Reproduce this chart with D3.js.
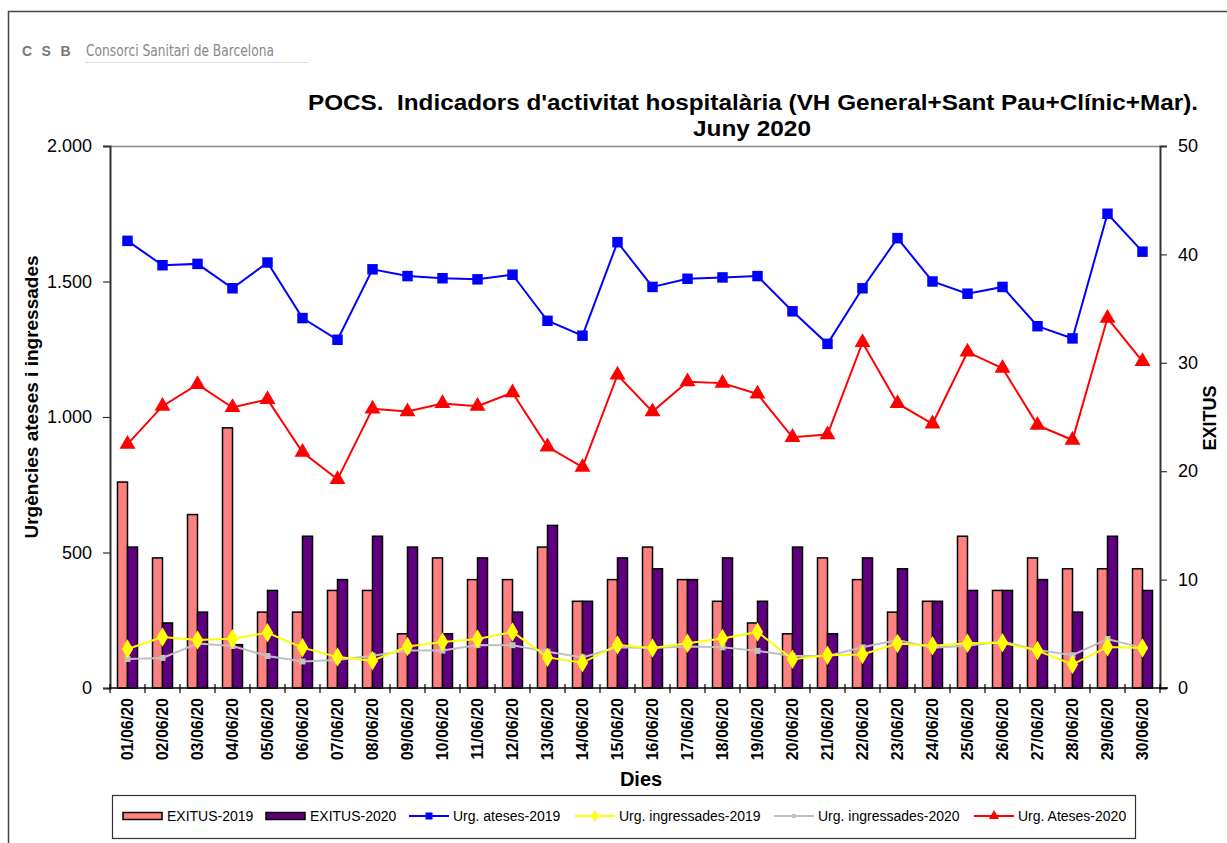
<!DOCTYPE html>
<html>
<head>
<meta charset="utf-8">
<script src="https://cdn.jsdelivr.net/npm/d3@7"></script>
<style>
  body { margin: 0; background: #fff; }
  svg { display: block; font-family: Arial, "Liberation Sans", sans-serif; }
</style>
</head>
<body>
<svg width="1227" height="843"></svg>
<script>
// data
var days = ["01/06/20","02/06/20","03/06/20","04/06/20","05/06/20","06/06/20","07/06/20","08/06/20","09/06/20","10/06/20",
            "11/06/20","12/06/20","13/06/20","14/06/20","15/06/20","16/06/20","17/06/20","18/06/20","19/06/20","20/06/20",
            "21/06/20","22/06/20","23/06/20","24/06/20","25/06/20","26/06/20","27/06/20","28/06/20","29/06/20","30/06/20"];
var exitus2019 = [19,12,16,24,7,7,9,9,5,12,10,10,13,8,10,13,10,8,6,5,12,10,7,8,14,9,12,11,11,11];
var exitus2020 = [13,6,7,4,9,14,10,14,13,5,12,7,15,8,12,11,10,12,8,13,5,12,11,8,9,9,10,7,14,9];
var ateses2019 = [1650,1560,1565,1475,1570,1365,1285,1545,1520,1512,1508,1525,1355,1300,1645,1480,1510,1515,1520,1390,1270,1475,1660,1500,1455,1480,1335,1290,1750,1610];
var ingressades2019 = [144,188,177,182,204,149,114,101,153,170,181,207,113,93,159,148,165,183,207,106,121,124,164,156,165,167,138,87,151,148];
var ingressades2020 = [107,111,164,155,118,98,103,119,138,138,159,158,134,113,150,148,153,150,137,118,118,150,177,149,156,172,140,121,181,148];
var ateses2020 = [900,1040,1120,1035,1065,870,770,1030,1020,1050,1040,1090,890,815,1155,1020,1130,1125,1085,925,935,1275,1050,975,1240,1180,970,915,1365,1205];
var leftTicks = [0,500,1000,1500,2000];
var rightTicks = [0,10,20,30,40,50];

var svg = d3.select("svg");
var pL = 110, pR = 1160, pT = 146, pB = 688;

var x = d3.scaleBand().domain(days).range([pL, pR]);
var xSub = d3.scaleBand().domain(["2019","2020"]).range([7.5, 27.5]);
var yL = d3.scaleLinear().domain([0, 2000]).range([pB, pT]);
var yR = d3.scaleLinear().domain([0, 50]).range([pB, pT]);
var locale = d3.formatLocale({decimal: ",", thousands: ".", grouping: [3], currency: ["", ""]});
var fmt = locale.format(",");

// outer frame
svg.append("path").attr("d", "M8.5,843V11.5H1227").attr("fill", "none").attr("stroke", "#444").attr("stroke-width", 1.5);

// logo
svg.append("text").attr("x", 22).attr("y", 56).attr("font-size", 14).attr("font-weight", "bold")
  .attr("fill", "#777").attr("letter-spacing", 9.5).text("CSB");
svg.append("text").attr("x", 86).attr("y", 56).attr("font-size", 15)
  .attr("font-family", "'Liberation Sans Narrow', 'DejaVu Sans Condensed', sans-serif")
  .attr("textLength", 188).attr("lengthAdjust", "spacingAndGlyphs").attr("fill", "#888")
  .text("Consorci Sanitari de Barcelona");
svg.append("line").attr("x1", 85).attr("x2", 308).attr("y1", 62.5).attr("y2", 62.5).attr("stroke", "#ddd");

// title
svg.append("text").attr("x", 753).attr("y", 110).attr("text-anchor", "middle").attr("font-size", 22.5)
  .attr("textLength", 890).attr("lengthAdjust", "spacingAndGlyphs")
  .attr("font-weight", "bold").text("POCS.\u00a0 Indicadors d'activitat hospitalària (VH General+Sant Pau+Clínic+Mar).");
svg.append("text").attr("x", 752).attr("y", 136).attr("text-anchor", "middle").attr("font-size", 22.5)
  .attr("textLength", 118).attr("lengthAdjust", "spacingAndGlyphs")
  .attr("font-weight", "bold").text("Juny 2020");

// plot top border
svg.append("line").attr("x1", pL).attr("x2", pR).attr("y1", pT + 0.5).attr("y2", pT + 0.5)
  .attr("stroke", "#888").attr("stroke-width", 1.5);

// bars
var barData = days.map(function(d, i) {
  return {day: d, vals: [{k: "2019", v: exitus2019[i]}, {k: "2020", v: exitus2020[i]}]};
});
var colors = {"2019": "#ff8080", "2020": "#600080"};
svg.append("g").selectAll("g").data(barData).enter().append("g")
  .attr("transform", function(d) { return "translate(" + x(d.day) + ",0)"; })
  .selectAll("rect").data(function(d) { return d.vals; }).enter().append("rect")
    .attr("x", function(d) { return xSub(d.k); })
    .attr("width", xSub.bandwidth())
    .attr("y", function(d) { return yR(d.v); })
    .attr("height", function(d) { return pB - yR(d.v); })
    .attr("fill", function(d) { return colors[d.k]; })
    .attr("stroke", "#000").attr("stroke-width", 1.5);

// axes
var gl = svg.append("g").attr("transform", "translate(" + pL + ",0)")
  .call(d3.axisLeft(yL).tickValues(leftTicks).tickFormat(fmt).tickSize(7).tickPadding(11));
var gr = svg.append("g").attr("transform", "translate(" + pR + ",0)")
  .call(d3.axisRight(yR).tickValues(rightTicks).tickSize(7).tickPadding(11));
[gl, gr].forEach(function(g) {
  g.select(".domain").attr("stroke", "#333").attr("stroke-width", 2);
  g.selectAll(".tick line").attr("stroke", "#333").attr("stroke-width", 1.2);
  g.selectAll(".tick text").attr("font-size", 18).attr("font-family", "Arial, 'Liberation Sans', sans-serif").attr("fill", "#000");
});
var gx = svg.append("g").attr("transform", "translate(0," + pB + ")")
  .call(d3.axisBottom(x).tickSize(0).tickPadding(10));
gx.select(".domain").remove();
svg.append("line").attr("x1", pL).attr("x2", pR + 8).attr("y1", pB).attr("y2", pB)
  .attr("stroke", "#000").attr("stroke-width", 1.5);
svg.append("g").selectAll("line").data(d3.range(days.length + 1)).enter().append("line")
  .attr("x1", function(i) { return pL + i * x.bandwidth(); })
  .attr("x2", function(i) { return pL + i * x.bandwidth(); })
  .attr("y1", pB - 4).attr("y2", pB + 5).attr("stroke", "#000").attr("stroke-width", 1.2);
gx.selectAll(".tick text")
  .attr("transform", "rotate(-90)")
  .attr("text-anchor", "end").attr("dy", "0.35em").attr("x", -10).attr("y", 0)
  .attr("font-size", 16).attr("font-weight", "bold").attr("font-family", "Arial, 'Liberation Sans', sans-serif");

// lines
function cx(i) { return x(days[i]) + x.bandwidth() / 2; }
function drawLine(vals, color, width) {
  svg.append("path").datum(vals)
    .attr("d", d3.line().x(function(d, i) { return cx(i); }).y(function(d) { return yL(d); }))
    .attr("fill", "none").attr("stroke", color).attr("stroke-width", width);
}
function drawMarks(vals, symbol, size, color) {
  svg.append("g").selectAll("path").data(vals).enter().append("path")
    .attr("transform", function(d, i) { return "translate(" + cx(i) + "," + yL(d) + ")"; })
    .attr("d", d3.symbol().type(symbol).size(size))
    .attr("fill", color);
}
drawLine(ingressades2020, "#c0c0c0", 2);
drawMarks(ingressades2020, d3.symbolSquare, 36, "#c0c0c0");
drawLine(ingressades2019, "#ffff00", 2);
drawMarks(ingressades2019, d3.symbolDiamond, 110, "#ffff00");
drawLine(ateses2019, "#0000ff", 2);
drawMarks(ateses2019, d3.symbolSquare, 110, "#0000ff");
drawLine(ateses2020, "#ff0000", 2);
drawMarks(ateses2020, d3.symbolTriangle, 110, "#ff0000");

// axis titles
svg.append("text").attr("transform", "translate(38,397) rotate(-90)").attr("text-anchor", "middle")
  .attr("font-size", 19).attr("font-weight", "bold").text("Urgències ateses i ingressades");
svg.append("text").attr("transform", "translate(1216,418) rotate(-90)").attr("text-anchor", "middle")
  .attr("font-size", 18).attr("font-weight", "bold").text("EXITUS");
svg.append("text").attr("x", 641).attr("y", 786).attr("text-anchor", "middle")
  .attr("font-size", 20).attr("font-weight", "bold").text("Dies");

// legend
svg.append("rect").attr("x", 112.5).attr("y", 795.5).attr("width", 1023).attr("height", 43)
  .attr("fill", "#fff").attr("stroke", "#333").attr("stroke-width", 1.2);
var ly = 816;
var legendItems = [
  {label: "EXITUS-2019", type: "bar", color: "#ff8080", x: 123},
  {label: "EXITUS-2020", type: "bar", color: "#600080", x: 266},
  {label: "Urg. ateses-2019", type: "line", color: "#0000ff", sym: d3.symbolSquare, size: 50, x: 409},
  {label: "Urg. ingressades-2019", type: "line", color: "#ffff00", sym: d3.symbolDiamond, size: 40, x: 575},
  {label: "Urg. ingressades-2020", type: "line", color: "#c0c0c0", sym: d3.symbolSquare, size: 16, x: 774},
  {label: "Urg. Ateses-2020", type: "line", color: "#ff0000", sym: d3.symbolTriangle, size: 45, x: 974}
];
var lg = svg.append("g").selectAll("g").data(legendItems).enter().append("g")
  .attr("transform", function(d) { return "translate(" + d.x + "," + ly + ")"; });
lg.filter(function(d) { return d.type === "bar"; }).append("rect")
  .attr("x", 0).attr("y", -3.5).attr("width", 39).attr("height", 7)
  .attr("fill", function(d) { return d.color; }).attr("stroke", "#000").attr("stroke-width", 1.5);
lg.filter(function(d) { return d.type === "line"; }).append("line")
  .attr("x1", 0).attr("x2", 40).attr("stroke", function(d) { return d.color; }).attr("stroke-width", 2);
lg.filter(function(d) { return d.type === "line"; }).append("path")
  .attr("transform", "translate(20,0)")
  .attr("d", function(d) { return d3.symbol().type(d.sym).size(d.size)(); })
  .attr("fill", function(d) { return d.color; });
lg.append("text").attr("x", 44).attr("dy", "0.35em").attr("font-size", 14).text(function(d) { return d.label; });
</script>
</body>
</html>
